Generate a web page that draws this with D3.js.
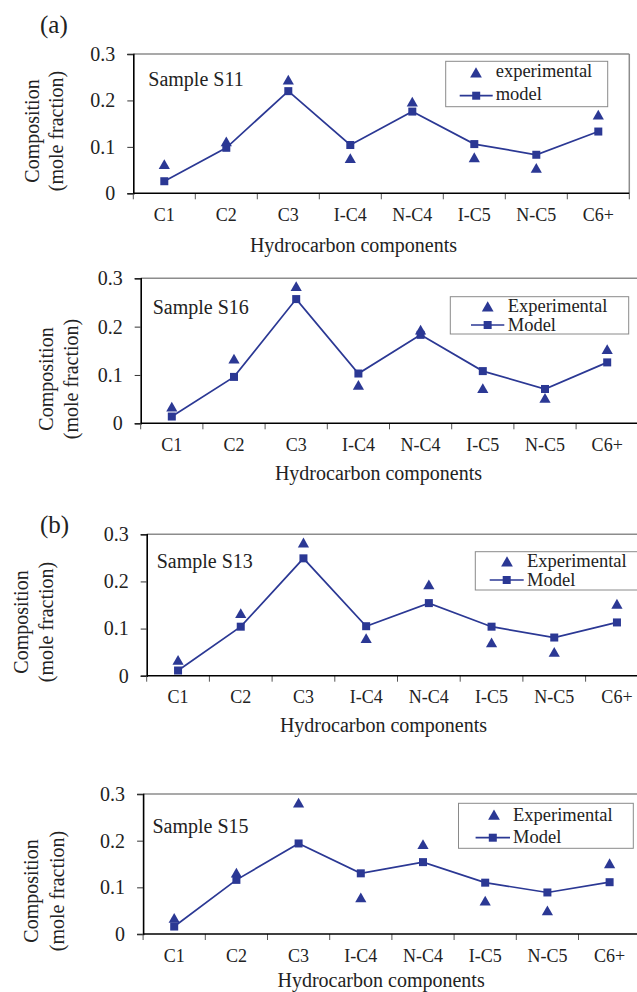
<!DOCTYPE html>
<html>
<head>
<meta charset="utf-8">
<script src="https://cdn.jsdelivr.net/npm/d3@7"></script>
<style>
  html, body { margin: 0; padding: 0; background: #fff; }
  svg { display: block; }
  text { font-family: "Liberation Serif", "Times New Roman", serif; fill: #222; }
</style>
</head>
<body>
<svg id="chart" width="637" height="992"></svg>
<script>
// ---------- data ----------
const categories = ["C1", "C2", "C3", "I-C4", "N-C4", "I-C5", "N-C5", "C6+"];
const yTicks = [0, 0.1, 0.2, 0.3];

const s11Experimental = [0.062, 0.111, 0.244, 0.075, 0.197, 0.077, 0.054, 0.169];
const s11Model        = [0.026, 0.098, 0.220, 0.104, 0.176, 0.106, 0.083, 0.133];
const s16Experimental = [0.034, 0.133, 0.283, 0.079, 0.193, 0.072, 0.052, 0.153];
const s16Model        = [0.014, 0.096, 0.257, 0.103, 0.183, 0.108, 0.071, 0.126];
const s13Experimental = [0.033, 0.132, 0.282, 0.079, 0.193, 0.070, 0.050, 0.152];
const s13Model        = [0.011, 0.104, 0.249, 0.105, 0.154, 0.104, 0.081, 0.113];
const s15Experimental = [0.034, 0.131, 0.281, 0.078, 0.192, 0.071, 0.050, 0.151];
const s15Model        = [0.016, 0.116, 0.194, 0.130, 0.154, 0.110, 0.089, 0.111];

const sampleNames = ["Sample S11", "Sample S16", "Sample S13", "Sample S15"];
const legendLabels = [["experimental", "model"], ["Experimental", "Model"], ["Experimental", "Model"], ["Experimental", "Model"]];
const yTitleLines = ["Composition", "(mole fraction)"];
const xTitle = "Hydrocarbon components";

// ---------- layout ----------
const layouts = [
  { left: 133.3, step: 62.0, top: 54, bottom: 193.3, sample: [148.3, 86],
    yt: [31.7, 55.5, 131], xt: [353.5, 251.7], tag: ["(a)", 40, 33],
    leg: { x: 445.7, y: 61.3, w: 162, h: 45.4, tri: [476, 72.7], t1: [495.7, 77.3], line: [459.7, 492.7, 95.7], t2: [495.7, 100.3] } },
  { left: 140.7, step: 62.2, top: 278.3, bottom: 423.3, sample: [152.7, 314.3],
    yt: [45.5, 70.5, 379], xt: [378.5, 480], tag: null,
    leg: { x: 450.3, y: 296.7, w: 178.4, h: 37.3, tri: [487.7, 306.7], t1: [507.7, 311.7], line: [471, 504.3, 325], t2: [507.7, 330.7] } },
  { left: 146.7, step: 62.7, top: 534.3, bottom: 675.7, sample: [156.7, 568.3],
    yt: [21, 45.5, 622], xt: [383.5, 731.7], tag: ["(b)", 40, 533.3],
    leg: { x: 475.3, y: 551.7, w: 175, h: 38.3, tri: [507, 561.7], t1: [527, 566.7], line: [489.7, 523.7, 580], t2: [527, 585.7] } },
  { left: 143.1, step: 62.2, top: 794, bottom: 934, sample: [152.4, 833.3],
    yt: [30.5, 57, 891], xt: [381.1, 986.5], tag: null,
    leg: { x: 458.5, y: 803.3, w: 174.8, h: 45, tri: [494, 815], t1: [513, 820.7], line: [475.6, 510, 837.7], t2: [513, 842.7] } }
];

const seriesSets = [
  [s11Experimental, s11Model],
  [s16Experimental, s16Model],
  [s13Experimental, s13Model],
  [s15Experimental, s15Model]
];

const BLUE = "#2b3894";
const triPath = "M0,-5.2L5.6,4.6L-5.6,4.6Z";
const sqSize = 8;

const svg = d3.select("#chart");

function drawPanel(i) {
  const L = layouts[i];
  const [expVals, modVals] = seriesSets[i];
  const g = svg.append("g");

  const x = d3.scaleBand().domain(categories)
    .range([L.left, L.left + L.step * categories.length]).padding(0);
  const y = d3.scaleLinear().domain([0, 0.3]).range([L.bottom, L.top]);
  const cx = c => x(c) + x.bandwidth() / 2;

  // plot area border (top & right grey)
  const right = x.range()[1];
  g.append("line").attr("x1", L.left).attr("x2", right).attr("y1", y(0.3)).attr("y2", y(0.3))
    .attr("stroke", "#8c8c8c").attr("stroke-width", 1.5);
  g.append("line").attr("x1", right).attr("x2", right).attr("y1", y(0.3)).attr("y2", y(0))
    .attr("stroke", "#8c8c8c").attr("stroke-width", 1.5);

  // y axis
  const yAxis = d3.axisLeft(y).tickValues(yTicks)
    .tickFormat(d => d === 0 ? "0" : d3.format(".1f")(d))
    .tickSize(6).tickPadding(12);
  const ya = g.append("g").attr("transform", `translate(${L.left},0)`).call(yAxis);
  ya.select(".domain").attr("stroke", "#000").attr("stroke-width", 1.6);
  ya.selectAll(".tick line").attr("stroke", "#333").attr("stroke-width", 1);
  ya.selectAll(".tick text").attr("font-size", 20).attr("fill", "#222")
    .attr("font-family", "Liberation Serif, Times New Roman, serif");

  // x axis: labels at centres, ticks at band boundaries
  const xAxis = d3.axisBottom(x).tickSize(0).tickPadding(15);
  const xa = g.append("g").attr("transform", `translate(0,${L.bottom})`).call(xAxis);
  xa.select(".domain").remove();
  xa.selectAll(".tick text").attr("font-size", 18).attr("fill", "#222")
    .attr("font-family", "Liberation Serif, Times New Roman, serif");
  const bounds = categories.map(c => x(c)).concat([right]);
  g.selectAll(".xb").data(bounds).join("line")
    .attr("x1", d => d).attr("x2", d => d)
    .attr("y1", L.bottom).attr("y2", L.bottom + 6)
    .attr("stroke", "#555").attr("stroke-width", 1);
  g.append("line").attr("x1", L.left).attr("x2", right).attr("y1", L.bottom).attr("y2", L.bottom)
    .attr("stroke", "#000").attr("stroke-width", 1.6);

  // axis titles
  g.append("text").attr("font-size", 20).attr("text-anchor", "middle")
    .attr("transform", `translate(${L.yt[0]},${L.yt[2]}) rotate(-90)`)
    .attr("dy", "0.35em").text(yTitleLines[0]);
  g.append("text").attr("font-size", 20).attr("text-anchor", "middle")
    .attr("transform", `translate(${L.yt[1]},${L.yt[2]}) rotate(-90)`)
    .attr("dy", "0.35em").text(yTitleLines[1]);
  g.append("text").attr("font-size", 20).attr("text-anchor", "middle")
    .attr("x", L.xt[0]).attr("y", L.xt[1]).text(xTitle);

  if (L.tag) {
    g.append("text").attr("font-size", 25).attr("x", L.tag[1]).attr("y", L.tag[2]).text(L.tag[0]);
  }

  // sample label
  g.append("text").attr("font-size", 20).attr("x", L.sample[0]).attr("y", L.sample[1]).text(sampleNames[i]);

  // experimental triangles
  g.selectAll(".exp").data(categories).join("path")
    .attr("d", triPath)
    .attr("transform", (c, k) => `translate(${cx(c)},${y(expVals[k])})`)
    .attr("fill", BLUE);

  // model line + squares
  const line = d3.line().x((c) => cx(c)).y((c, k) => y(modVals[k]));
  g.append("path").datum(categories).attr("d", line)
    .attr("fill", "none").attr("stroke", BLUE).attr("stroke-width", 1.7);
  g.selectAll(".mod").data(categories).join("rect")
    .attr("x", c => cx(c) - sqSize / 2)
    .attr("y", (c, k) => y(modVals[k]) - sqSize / 2)
    .attr("width", sqSize).attr("height", sqSize)
    .attr("fill", BLUE);

  // legend
  const lg = L.leg;
  g.append("rect").attr("x", lg.x).attr("y", lg.y).attr("width", lg.w).attr("height", lg.h)
    .attr("fill", "#fff").attr("stroke", "#8a8a8a").attr("stroke-width", 1);
  g.append("path").attr("d", triPath).attr("transform", `translate(${lg.tri[0]},${lg.tri[1]}) scale(1.05)`).attr("fill", BLUE);
  g.append("text").attr("font-size", 18.5).attr("x", lg.t1[0]).attr("y", lg.t1[1]).text(legendLabels[i][0]);
  g.append("line").attr("x1", lg.line[0]).attr("x2", lg.line[1]).attr("y1", lg.line[2]).attr("y2", lg.line[2])
    .attr("stroke", BLUE).attr("stroke-width", 1.7);
  const mid = (lg.line[0] + lg.line[1]) / 2;
  g.append("rect").attr("x", mid - sqSize / 2).attr("y", lg.line[2] - sqSize / 2)
    .attr("width", sqSize).attr("height", sqSize).attr("fill", BLUE);
  g.append("text").attr("font-size", 18.5).attr("x", lg.t2[0]).attr("y", lg.t2[1]).text(legendLabels[i][1]);
}

for (let i = 0; i < 4; i++) drawPanel(i);
</script>
</body>
</html>
